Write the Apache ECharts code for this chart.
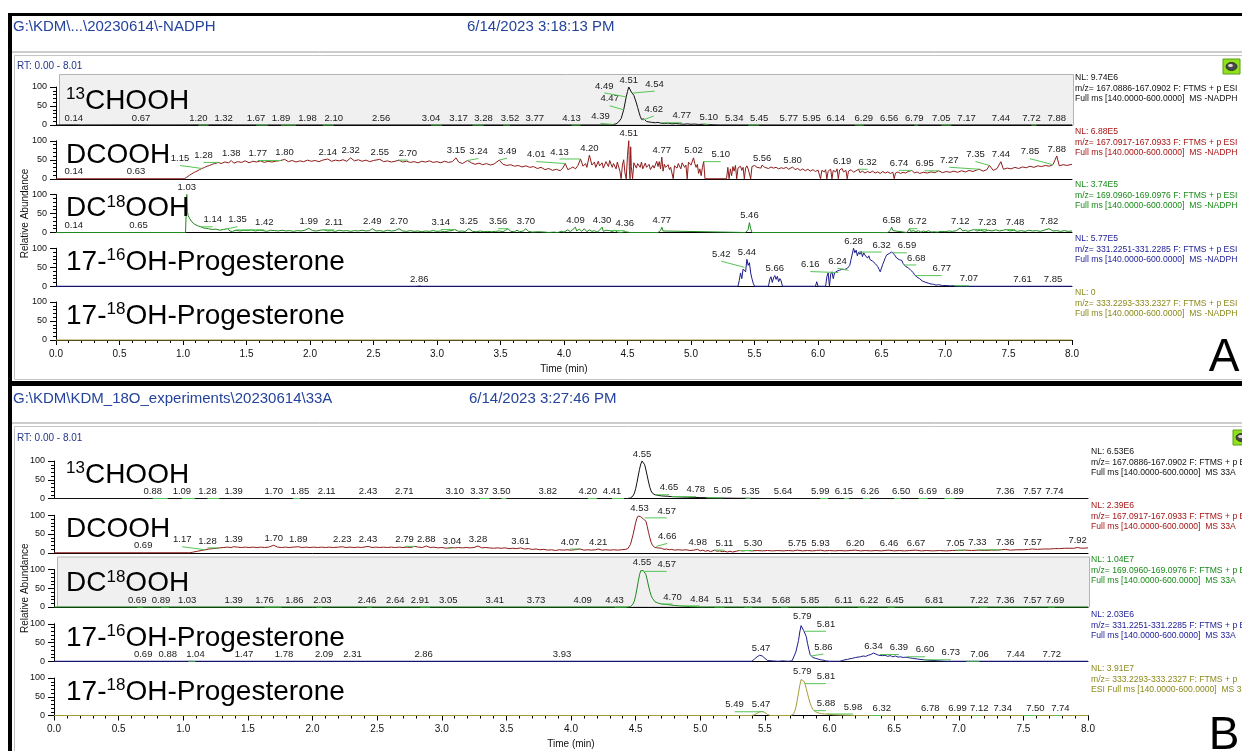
<!DOCTYPE html>
<html>
<head>
<meta charset="utf-8">
<script src="https://cdn.jsdelivr.net/npm/echarts@6/dist/echarts.min.js"></script>
<style>
  html, body { margin: 0; padding: 0; background: #fff; }
  #chart { width: 1242px; height: 751px; }
</style>
</head>
<body>
<div id="chart"></div>
<script>
// ---------- run headers ----------
const headerA = ['G:\\KDM\\...\\20230614\\-NADPH', '6/14/2023 3:18:13 PM'];
const headerB = ['G:\\KDM\\KDM_18O_experiments\\20230614\\33A', '6/14/2023 3:27:46 PM'];
const rtRange = 'RT: 0.00 - 8.01';
const panelLetters = ['A', 'B'];

// ---------- trace descriptions (right-hand text) ----------
const compoundNames = [
  [['13', 1], ['CHOOH', 0]],
  [['DCOOH', 0]],
  [['DC', 0], ['18', 1], ['OOH', 0]],
  [['17-', 0], ['16', 1], ['OH-Progesterone', 0]],
  [['17-', 0], ['18', 1], ['OH-Progesterone', 0]]
];
const nlA = ['9.74E6', '6.88E5', '3.74E5', '5.77E5', '0'];
const nlB = ['6.53E6', '2.39E6', '1.04E7', '2.03E6', '3.91E7'];
const mzWindows = ['167.0886-167.0902', '167.0917-167.0933', '169.0960-169.0976', '331.2251-331.2285', '333.2293-333.2327'];
const scanFilter = 'F: FTMS + p ESI';
const fullMs = 'Full ms [140.0000-600.0000]';
const sampleTags = ['MS -NADPH', 'MS 33A'];

// ---------- run A traces: [time (min), relative abundance %] ----------
const a1Trace = [[0,0],[0.14,0.4],[0.2,0],[0.67,0.4],[0.75,0],[1.2,0.3],[1.32,0.3],[1.4,0],[4.3,0],[4.36,0.6],[4.39,1.5],[4.41,3],[4.43,8],[4.45,17],[4.47,40],[4.49,74],[4.50,88],[4.51,100],[4.52,95],[4.53,87],[4.54,84],[4.55,78],[4.56,68],[4.57,58],[4.58,46],[4.59,34],[4.60,23],[4.61,15],[4.62,13],[4.63,16],[4.64,12],[4.65,9],[4.66,11],[4.67,8],[4.68,10],[4.69,7],[4.70,8],[4.72,6],[4.74,7],[4.76,5],[4.77,6],[4.79,4],[4.82,5],[4.85,3],[4.88,4],[4.91,3],[4.94,2],[4.97,3],[5.00,2],[5.03,2.5],[5.06,1.5],[5.10,2],[5.13,1],[5.18,0.5],[5.22,0],[8,0]];
const a1Peaks = [[0.14,0],[0.67,0],[1.20,0],[1.32,0],[1.67,0],[1.89,0],[1.98,0],[2.10,0],[2.56,0],[3.04,0],[3.17,0],[3.28,0],[3.52,0],[3.77,0],[4.13,0],[4.39,1.5],[4.47,40],[4.49,74],[4.51,100],[4.54,84],[4.62,13],[4.77,6],[5.10,2],[5.34,0],[5.45,0],[5.77,0],[5.95,0],[6.14,0],[6.29,0],[6.56,0],[6.79,0],[7.05,0],[7.17,0],[7.44,0],[7.72,0],[7.88,0]];

const a2Trace = [[0,0],[1.01,0],[1.03,4],[1.05,9],[1.07,13],[1.09,17],[1.11,20],[1.13,24],[1.15,27],[1.17,30],[1.19,33],[1.21,35],[1.23,38],[1.25,40],[1.28,43],[1.30,40],[1.33,44],[1.36,42],[1.38,48],[1.40,41],[1.43,45],[1.46,43],[1.49,47],[1.52,42],[1.55,46],[1.58,44],[1.61,47],[1.64,43],[1.67,46],[1.70,44],[1.73,46],[1.77,48],[1.80,51],[1.83,45],[1.86,48],[1.89,44],[1.92,47],[1.95,45],[1.98,49],[2.01,46],[2.04,48],[2.07,45],[2.10,49],[2.14,52],[2.17,46],[2.20,49],[2.23,47],[2.26,50],[2.29,46],[2.32,55],[2.35,47],[2.38,50],[2.41,46],[2.44,49],[2.47,45],[2.50,48],[2.55,51],[2.58,45],[2.61,47],[2.64,44],[2.67,46],[2.70,49],[2.73,44],[2.76,46],[2.79,43],[2.82,45],[2.85,42],[2.88,46],[2.91,44],[2.94,47],[2.97,43],[3.00,45],[3.03,42],[3.06,46],[3.09,43],[3.12,45],[3.15,55],[3.17,44],[3.20,40],[3.24,48],[3.27,42],[3.30,38],[3.33,41],[3.36,37],[3.39,40],[3.42,36],[3.45,39],[3.49,49],[3.52,38],[3.55,35],[3.58,37],[3.61,33],[3.64,35],[3.67,31],[3.70,34],[3.73,30],[3.76,32],[3.79,27],[3.82,30],[3.85,24],[3.88,27],[3.91,22],[3.94,25],[3.97,21],[3.99,28],[4.01,40],[4.03,24],[4.05,27],[4.07,31],[4.09,26],[4.11,35],[4.13,52],[4.15,33],[4.17,40],[4.18,30],[4.20,62],[4.22,36],[4.24,44],[4.25,30],[4.27,46],[4.28,34],[4.30,42],[4.31,28],[4.33,45],[4.35,32],[4.36,48],[4.38,30],[4.39,40],[4.41,26],[4.42,44],[4.44,20],[4.45,0],[4.46,36],[4.47,50],[4.48,15],[4.49,0],[4.50,62],[4.51,100],[4.515,22],[4.52,0],[4.525,84],[4.53,32],[4.54,0],[4.55,42],[4.56,46],[4.57,28],[4.58,40],[4.60,30],[4.61,44],[4.62,26],[4.64,41],[4.65,30],[4.67,38],[4.68,24],[4.70,35],[4.71,28],[4.73,46],[4.74,32],[4.75,45],[4.76,26],[4.77,57],[4.78,20],[4.79,38],[4.80,30],[4.82,37],[4.83,24],[4.84,30],[4.86,0],[4.87,34],[4.89,28],[4.90,40],[4.92,26],[4.93,42],[4.95,30],[4.96,36],[4.97,0],[4.98,44],[5.00,36],[5.02,55],[5.03,40],[5.04,30],[5.05,38],[5.06,14],[5.07,26],[5.08,8],[5.09,30],[5.10,45],[5.11,0],[5.28,0],[5.29,30],[5.30,0],[5.31,26],[5.32,8],[5.33,32],[5.34,20],[5.35,35],[5.36,0],[5.37,28],[5.38,24],[5.39,33],[5.40,22],[5.41,30],[5.42,0],[5.43,28],[5.44,34],[5.45,26],[5.46,30],[5.47,0],[5.48,32],[5.49,28],[5.50,35],[5.52,30],[5.53,33],[5.55,28],[5.56,36],[5.58,30],[5.59,33],[5.61,27],[5.63,31],[5.65,28],[5.67,30],[5.69,26],[5.71,29],[5.73,27],[5.75,30],[5.77,25],[5.80,31],[5.82,24],[5.84,27],[5.86,22],[5.88,26],[5.90,21],[5.92,25],[5.94,20],[5.96,24],[5.98,19],[6.00,23],[6.02,0],[6.03,22],[6.05,18],[6.06,24],[6.07,0],[6.08,20],[6.10,25],[6.11,0],[6.12,22],[6.14,18],[6.15,26],[6.16,0],[6.17,23],[6.19,27],[6.20,18],[6.22,22],[6.23,0],[6.24,20],[6.26,24],[6.28,17],[6.30,21],[6.32,25],[6.33,16],[6.35,20],[6.37,15],[6.39,19],[6.41,16],[6.43,20],[6.45,15],[6.47,18],[6.49,14],[6.51,19],[6.53,15],[6.55,18],[6.57,14],[6.59,17],[6.60,0],[6.61,15],[6.63,18],[6.65,14],[6.67,17],[6.69,15],[6.71,19],[6.74,22],[6.76,15],[6.78,18],[6.80,14],[6.83,17],[6.86,15],[6.89,18],[6.92,16],[6.95,21],[6.98,16],[7.01,19],[7.04,17],[7.07,20],[7.10,17],[7.13,21],[7.16,18],[7.19,22],[7.22,19],[7.25,23],[7.27,25],[7.30,20],[7.33,24],[7.35,35],[7.38,22],[7.41,27],[7.44,45],[7.46,25],[7.49,28],[7.52,26],[7.55,30],[7.58,27],[7.61,31],[7.64,29],[7.67,33],[7.70,30],[7.73,34],[7.76,32],[7.79,35],[7.82,33],[7.85,37],[7.88,60],[7.90,34],[7.93,37],[7.96,35],[8,38]];
const a2Peaks = [[0.14,0],[0.63,0],[1.15,27],[1.28,43],[1.38,48],[1.77,48],[1.80,51],[2.14,52],[2.32,55],[2.55,51],[2.70,49],[3.15,55],[3.24,48],[3.49,49],[4.01,40],[4.13,52],[4.20,62],[4.51,100],[4.77,57],[5.02,55],[5.10,45],[5.56,36],[5.80,31],[6.19,27],[6.32,25],[6.74,22],[6.95,21],[7.27,25],[7.35,35],[7.44,45],[7.85,37],[7.88,60]];

const a3Trace = [[0,0],[1.02,0],[1.03,100],[1.035,55],[1.04,45],[1.05,38],[1.06,33],[1.07,28],[1.08,25],[1.09,22],[1.10,20],[1.12,17],[1.14,15],[1.16,12],[1.18,11],[1.20,10],[1.23,8],[1.26,9],[1.29,6],[1.32,8],[1.35,10],[1.37,4],[1.39,2],[1.41,6],[1.42,7],[1.45,4],[1.48,6],[1.51,5],[1.54,7],[1.57,4],[1.60,6],[1.63,5],[1.66,3],[1.69,6],[1.72,5],[1.75,4],[1.78,6],[1.81,4],[1.84,5],[1.87,3],[1.90,5],[1.93,4],[1.96,6],[1.99,11],[2.02,5],[2.05,4],[2.08,6],[2.11,7],[2.14,4],[2.17,5],[2.20,3],[2.23,6],[2.26,4],[2.29,5],[2.32,3],[2.35,5],[2.38,4],[2.41,6],[2.44,4],[2.47,5],[2.49,10],[2.52,4],[2.55,5],[2.58,3],[2.61,6],[2.64,4],[2.67,5],[2.70,10],[2.73,4],[2.76,3],[2.79,5],[2.82,3],[2.85,4],[2.88,2],[2.91,4],[2.94,3],[2.97,5],[3.00,3],[3.03,4],[3.06,2],[3.09,4],[3.12,5],[3.14,8],[3.17,3],[3.20,4],[3.22,2],[3.25,10],[3.28,3],[3.31,2],[3.34,4],[3.37,2],[3.40,3],[3.43,2],[3.46,3],[3.49,4],[3.52,2],[3.54,6],[3.56,10],[3.58,3],[3.61,2],[3.63,6],[3.65,2],[3.68,4],[3.70,10],[3.72,3],[3.75,1],[3.80,2],[3.85,1],[3.88,0],[3.92,1],[3.95,0],[3.98,3],[4.00,1],[4.03,7],[4.05,2],[4.07,8],[4.09,14],[4.10,4],[4.12,9],[4.14,3],[4.16,10],[4.18,2],[4.20,7],[4.22,3],[4.24,5],[4.26,1],[4.28,6],[4.30,14],[4.31,3],[4.33,6],[4.34,1],[4.36,5],[4.38,2],[4.40,6],[4.42,1],[4.45,0],[4.48,2],[4.52,0],[4.74,0],[4.76,5],[4.77,14],[4.78,4],[4.79,0],[5.43,0],[5.45,8],[5.46,26],[5.47,10],[5.48,0],[6.55,0],[6.57,6],[6.58,14],[6.59,5],[6.60,0],[6.70,0],[6.71,4],[6.72,10],[6.73,3],[6.75,5],[6.77,2],[6.79,5],[6.81,1],[6.83,4],[6.85,2],[6.87,5],[6.89,1],[6.91,2],[6.94,1],[6.97,3],[7.00,2],[7.03,4],[7.06,3],[7.09,5],[7.12,12],[7.14,4],[7.16,6],[7.18,3],[7.21,6],[7.23,8],[7.25,4],[7.28,6],[7.31,3],[7.34,6],[7.37,4],[7.40,7],[7.43,4],[7.46,6],[7.48,8],[7.51,4],[7.54,6],[7.57,3],[7.60,5],[7.63,3],[7.66,6],[7.69,4],[7.72,5],[7.75,3],[7.78,6],[7.82,10],[7.85,4],[7.88,5],[7.91,3],[7.94,5],[7.97,3],[8,4]];
const a3Peaks = [[0.14,0],[0.65,0],[1.03,100],[1.14,15],[1.35,10],[1.42,7],[1.99,11],[2.11,7],[2.49,10],[2.70,10],[3.14,8],[3.25,10],[3.56,10],[3.70,10],[4.09,14],[4.30,14],[4.36,5],[4.77,14],[5.46,26],[6.58,14],[6.72,10],[7.12,12],[7.23,8],[7.48,8],[7.82,10]];

const a4Trace = [[0,0],[2.84,0],[2.86,0.8],[2.88,0],[5.37,0],[5.38,15],[5.39,35],[5.40,20],[5.41,45],[5.42,50],[5.43,38],[5.44,71],[5.45,55],[5.46,62],[5.47,35],[5.48,20],[5.49,8],[5.50,0],[5.61,0],[5.62,18],[5.63,25],[5.64,10],[5.65,22],[5.66,28],[5.67,18],[5.68,26],[5.69,12],[5.70,20],[5.71,14],[5.72,0],[5.98,0],[5.99,12],[6.00,0],[6.06,0],[6.07,25],[6.08,35],[6.09,0],[6.10,32],[6.11,38],[6.12,20],[6.13,35],[6.14,30],[6.15,40],[6.16,36],[6.17,42],[6.18,38],[6.19,45],[6.20,40],[6.21,44],[6.22,39],[6.23,47],[6.24,42],[6.25,55],[6.26,70],[6.27,85],[6.28,100],[6.29,88],[6.30,95],[6.31,80],[6.32,90],[6.33,84],[6.34,92],[6.35,78],[6.36,88],[6.37,82],[6.38,86],[6.39,74],[6.40,80],[6.41,70],[6.42,75],[6.43,66],[6.44,70],[6.45,60],[6.46,62],[6.47,52],[6.48,45],[6.49,38],[6.50,48],[6.51,58],[6.52,66],[6.53,75],[6.54,82],[6.55,78],[6.56,86],[6.57,84],[6.58,90],[6.59,88],[6.60,84],[6.61,80],[6.62,74],[6.63,76],[6.64,70],[6.65,66],[6.66,68],[6.67,60],[6.68,56],[6.69,52],[6.70,48],[6.71,49],[6.72,44],[6.73,42],[6.74,40],[6.75,36],[6.76,30],[6.77,28],[6.78,24],[6.79,22],[6.80,20],[6.81,17],[6.82,14],[6.83,12],[6.85,10],[6.87,8],[6.89,6],[6.91,5],[6.93,3],[6.95,4],[6.98,2],[7.01,2],[7.04,1],[7.07,1.5],[7.10,0],[8,0]];
const a4Peaks = [[2.86,0],[5.42,50],[5.44,71],[5.66,28],[6.16,36],[6.24,42],[6.28,100],[6.32,90],[6.59,88],[6.68,56],[6.77,28],[7.07,1.5],[7.61,0],[7.85,0]];

const a5Trace = [[0,0],[8,0]];
const a5Peaks = [];

// ---------- run B traces ----------
const b1Trace = [[0,0],[0.88,0],[0.89,0.5],[0.9,0],[4.44,0],[4.46,1.5],[4.47,3],[4.48,7],[4.49,14],[4.50,26],[4.51,42],[4.52,60],[4.53,78],[4.54,92],[4.55,100],[4.56,98],[4.57,90],[4.58,76],[4.59,60],[4.60,44],[4.61,30],[4.62,20],[4.63,14],[4.64,11],[4.65,10],[4.66,9],[4.68,8],[4.70,7],[4.72,6.5],[4.75,6],[4.78,5],[4.82,4.5],[4.86,4],[4.90,3.5],[4.95,3],[5.00,2.5],[5.05,2],[5.10,1.5],[5.15,1.2],[5.20,1],[5.30,0.6],[5.35,0.6],[5.40,0.3],[5.50,0],[8,0]];
const b1Peaks = [[0.88,0],[1.09,0],[1.28,0],[1.39,0],[1.70,0],[1.85,0],[2.11,0],[2.43,0],[2.71,0],[3.10,0],[3.37,0],[3.50,0],[3.82,0],[4.20,0],[4.41,0],[4.55,100],[4.65,10],[4.78,5],[5.05,2],[5.35,0.6],[5.64,0],[5.99,0],[6.15,0],[6.26,0],[6.50,0],[6.69,0],[6.89,0],[7.36,0],[7.57,0],[7.74,0]];

const b2Trace = [[0,0],[0.69,0],[0.70,1],[0.71,0],[1.05,0],[1.08,2],[1.11,4],[1.14,6],[1.17,8],[1.20,10],[1.23,11],[1.26,12],[1.28,13],[1.31,14],[1.34,15],[1.37,14],[1.39,16],[1.42,15],[1.45,14],[1.48,15],[1.51,14],[1.54,15],[1.57,14],[1.60,15],[1.63,14],[1.66,15],[1.70,20],[1.73,15],[1.76,14],[1.79,15],[1.82,14],[1.85,15],[1.89,16],[1.92,14],[1.95,15],[1.98,14],[2.01,15],[2.04,14],[2.07,15],[2.10,14],[2.13,15],[2.16,14],[2.20,15],[2.23,16],[2.26,14],[2.29,15],[2.32,14],[2.35,15],[2.38,14],[2.43,17],[2.46,14],[2.49,15],[2.52,14],[2.55,15],[2.58,14],[2.61,15],[2.64,14],[2.67,15],[2.70,14],[2.73,15],[2.76,14],[2.79,17],[2.82,15],[2.85,14],[2.88,18],[2.91,14],[2.94,15],[2.97,13],[3.00,14],[3.04,12],[3.07,14],[3.10,13],[3.13,14],[3.16,13],[3.19,14],[3.22,13],[3.25,14],[3.28,18],[3.31,13],[3.34,14],[3.37,13],[3.40,12],[3.43,13],[3.46,12],[3.49,13],[3.52,11],[3.55,12],[3.58,11],[3.61,13],[3.64,10],[3.67,11],[3.70,9],[3.73,10],[3.76,8],[3.79,9],[3.82,7],[3.85,8],[3.88,6],[3.91,8],[3.94,7],[3.97,8],[4.00,7],[4.03,8],[4.07,10],[4.10,7],[4.13,8],[4.16,7],[4.19,8],[4.21,10],[4.24,7],[4.27,8],[4.30,7],[4.33,8],[4.36,7],[4.39,8],[4.42,9],[4.44,11],[4.46,22],[4.48,48],[4.50,80],[4.51,92],[4.52,98],[4.53,100],[4.54,96],[4.55,92],[4.56,90],[4.57,93],[4.58,84],[4.59,70],[4.60,54],[4.61,40],[4.62,28],[4.63,20],[4.64,15],[4.65,14],[4.66,17],[4.67,13],[4.68,11],[4.70,12],[4.72,9],[4.74,10],[4.76,8],[4.78,9],[4.80,7],[4.83,8],[4.86,7],[4.89,8],[4.92,6],[4.95,7],[4.98,9],[5.00,5],[5.02,7],[5.04,4],[5.06,6],[5.08,3],[5.11,7],[5.13,4],[5.15,5],[5.17,3],[5.19,4],[5.21,2],[5.23,4],[5.25,2],[5.28,4],[5.30,6],[5.33,5],[5.36,6],[5.40,5],[5.44,6],[5.48,5],[5.52,6],[5.56,5],[5.60,6],[5.64,5],[5.68,6],[5.72,5],[5.75,7],[5.79,5],[5.83,6],[5.87,5],[5.90,6],[5.93,7],[5.96,5],[6.00,6],[6.04,5],[6.08,6],[6.12,5],[6.16,6],[6.20,7],[6.24,5],[6.28,6],[6.32,5],[6.36,6],[6.40,5],[6.43,6],[6.46,7],[6.50,5],[6.54,6],[6.58,5],[6.62,6],[6.67,7],[6.71,5],[6.75,6],[6.80,5],[6.85,6],[6.90,5],[6.95,6],[7.00,6],[7.05,7],[7.10,6],[7.15,7],[7.20,6],[7.25,7],[7.30,7],[7.33,8],[7.36,9],[7.40,7],[7.45,8],[7.50,8],[7.54,9],[7.57,10],[7.61,9],[7.65,10],[7.70,10],[7.74,11],[7.78,11],[7.82,12],[7.86,12],[7.89,12],[7.92,14],[7.95,12],[8,13]];
const b2Peaks = [[0.69,1],[1.17,8],[1.28,13],[1.39,16],[1.70,20],[1.89,16],[2.23,16],[2.43,17],[2.79,17],[2.88,18],[3.04,12],[3.28,18],[3.61,13],[4.07,10],[4.21,10],[4.53,100],[4.57,93],[4.66,17],[4.98,9],[5.11,7],[5.30,6],[5.75,7],[5.93,7],[6.20,7],[6.46,7],[6.67,7],[7.05,7],[7.33,8],[7.36,9],[7.57,10],[7.92,14]];

const b3Trace = [[0,0],[4.44,0],[4.46,1],[4.47,3],[4.48,8],[4.49,16],[4.50,30],[4.51,48],[4.52,68],[4.53,86],[4.54,97],[4.55,100],[4.56,97],[4.57,95],[4.58,86],[4.59,72],[4.60,56],[4.61,42],[4.62,31],[4.63,23],[4.64,18],[4.65,14],[4.67,11],[4.70,8],[4.73,7],[4.76,6],[4.80,4],[4.84,3],[4.88,2],[4.92,1],[4.96,0.5],[5.0,0],[8,0]];
const b3Peaks = [[0.69,0],[0.89,0],[1.03,0],[1.39,0],[1.76,0],[1.86,0],[2.03,0],[2.46,0],[2.64,0],[2.91,0],[3.05,0],[3.41,0],[3.73,0],[4.09,0],[4.43,0],[4.55,100],[4.57,95],[4.70,8],[4.84,3],[5.11,0],[5.34,0],[5.68,0],[5.85,0],[6.11,0],[6.22,0],[6.45,0],[6.81,0],[7.22,0],[7.36,0],[7.57,0],[7.69,0]];

const b4Trace = [[0,0],[5.40,0],[5.42,6],[5.44,12],[5.46,16],[5.47,17],[5.48,14],[5.50,8],[5.52,2],[5.53,0],[5.56,1],[5.60,0],[5.64,1],[5.68,0],[5.71,1],[5.72,5],[5.74,25],[5.76,55],[5.77,78],[5.78,95],[5.79,100],[5.80,82],[5.81,80],[5.82,66],[5.83,48],[5.84,32],[5.85,18],[5.86,14],[5.87,10],[5.88,12],[5.89,8],[5.90,11],[5.91,6],[5.92,9],[5.93,4],[5.95,3],[5.97,1],[6.00,0],[6.08,0],[6.10,2],[6.12,4],[6.14,5],[6.16,7],[6.18,8],[6.20,10],[6.22,11],[6.24,12],[6.26,14],[6.28,13],[6.30,16],[6.32,18],[6.34,22],[6.36,19],[6.38,16],[6.39,18],[6.41,15],[6.43,16],[6.45,13],[6.47,15],[6.49,12],[6.51,14],[6.53,11],[6.55,12],[6.57,10],[6.59,11],[6.60,12],[6.62,9],[6.64,8],[6.66,7],[6.68,6],[6.70,5],[6.73,4],[6.76,3],[6.80,2],[6.85,1],[6.90,0],[8,0]];
const b4Peaks = [[0.69,0],[0.88,0],[1.04,0],[1.47,0],[1.78,0],[2.09,0],[2.31,0],[2.86,0],[3.93,0],[5.47,17],[5.79,100],[5.81,80],[5.86,14],[6.34,22],[6.39,18],[6.60,12],[6.73,4],[7.06,0],[7.44,0],[7.72,0]];

const b5Trace = [[0,0],[5.40,0],[5.42,2],[5.44,6],[5.46,10],[5.47,12],[5.48,11],[5.49,10],[5.50,8],[5.52,3],[5.54,0],[5.70,0],[5.72,3],[5.73,10],[5.74,22],[5.75,40],[5.76,60],[5.77,80],[5.78,96],[5.79,100],[5.80,92],[5.81,85],[5.82,72],[5.83,58],[5.84,45],[5.85,33],[5.86,24],[5.87,17],[5.88,13],[5.89,10],[5.90,8],[5.92,6],[5.94,5],[5.96,4],[5.98,4],[6.00,3],[6.03,2],[6.06,1.5],[6.10,1],[6.15,0.5],[6.20,0],[8,0]];
const b5Peaks = [[5.49,10],[5.47,12],[5.79,100],[5.81,85],[5.88,13],[5.98,4],[6.32,0],[6.78,0],[6.99,0],[7.12,0],[7.34,0],[7.50,0],[7.74,0]];

// ---------- label displacement (px) for crowded peak labels; a leader joins label and apex ----------
const a1Shift = {'1.20':[-10,0],'1.67':[-12,0],'1.89':[-15,0],'2.10':[11,0],'3.04':[-11,0],'3.28':[11,0],'3.52':[7,0],'4.13':[-9,0],'4.39':[-13,-1],'4.47':[-14,-4],'4.49':[-22,-4],'4.54':[22,-2],'4.62':[11,-4],'4.77':[20,0],'5.10':[5,0],'5.45':[11,0],'6.29':[9,0],'6.79':[-4,0],'7.05':[-10,0],'7.72':[-5,0]};
const a2Shift = {'1.15':[-22,-3],'1.28':[-15,0],'1.77':[-23,0],'2.70':[9,0],'3.24':[11,-2],'3.49':[8,-2],'4.01':[-29,-2],'4.13':[-21,0],'5.10':[17,0],'6.32':[9,0],'6.74':[-13,0],'6.95':[-14,0],'7.27':[-30,-2],'7.35':[-14,-4],'7.85':[-23,-6]};
const a3Shift = {'1.14':[12,0],'1.35':[10,-2],'1.42':[28,0],'2.11':[10,0],'3.14':[-14,0],'3.56':[-10,0],'4.36':[15,0],'6.72':[8,0],'7.23':[13,0],'7.48':[9,0]};
const a4Shift = {'5.42':[-23,-6],'6.16':[-28,-1],'6.24':[-11,-2],'6.32':[23,0],'6.59':[14,0],'6.68':[12,0],'6.77':[26,0],'7.07':[15,0]};
const a5Shift = {};
const b1Shift = {'0.88':[-15,0],'1.09':[-13,0],'1.28':[-12,0],'1.85':[7,0],'3.37':[-10,0],'3.50':[-5,0],'4.20':[-9,0],'4.41':[-12,0],'4.65':[14,0],'4.78':[24,0],'5.05':[16,0],'5.35':[5,0],'5.99':[-8,0],'6.15':[-5,0],'6.26':[7,0],'6.50':[7,0],'6.69':[9,0],'6.89':[10,0]};
const b2Shift = {'1.17':[-23,-3],'1.28':[-12,0],'2.79':[-10,0],'3.04':[5,0],'4.07':[-10,0],'4.57':[22,0],'4.66':[11,-3],'5.11':[10,0],'5.30':[14,0],'7.05':[-10,0],'7.33':[-24,0]};
const b3Shift = {'0.69':[-6,0],'0.89':[-8,0],'1.76':[-17,0],'2.03':[6,0],'2.46':[-5,0],'2.91':[-10,0],'4.43':[-12,0],'4.57':[22,0],'4.70':[11,0],'4.84':[20,0],'5.11':[10,0],'5.34':[8,0],'5.68':[-7,0],'6.22':[11,0],'6.45':[7,0],'7.22':[-8,0],'7.69':[7,0]};
const b4Shift = {'1.04':[7,0],'5.81':[21,0],'5.86':[12,-2],'6.39':[19,0],'6.60':[18,0],'6.73':[27,0],'7.06':[13,0]};
const b5Shift = {'5.49':[-29,0],'5.81':[21,0],'5.88':[12,0],'5.98':[26,0],'6.32':[11,0],'7.12':[5,0],'7.50':[12,0],'7.74':[6,0]};

// ---------- drawing ----------
const FONT = '"Liberation Sans", Arial, Helvetica, sans-serif';
const traceColors = ['#111111', '#8e1c1c', '#1f8a1f', '#1c1c8c', '#a39c3c'];
const textColors  = ['#111111', '#a81515', '#1a8a1a', '#1c1c96', '#8c8a1c'];
const LEADER = '#55c455';

const runs = [
  { header: headerA, nl: nlA, tag: sampleTags[0], letter: panelLetters[0],
    traces: [a1Trace, a2Trace, a3Trace, a4Trace, a5Trace],
    peaks: [a1Peaks, a2Peaks, a3Peaks, a4Peaks, a5Peaks],
    shifts: [a1Shift, a2Shift, a3Shift, a4Shift, a5Shift],
    x0: 56, x8: 1072, top: 87, step: 53.75, h: 38, boxPane: 0,
    headY: 27, ruleY: 52, rtY: 66.5, frameTop: 55, frameBottom: 379, letterY: 358, iconX: 1223, iconY: 59, dateX: 467 },
  { header: headerB, nl: nlB, tag: sampleTags[1], letter: panelLetters[1],
    traces: [b1Trace, b2Trace, b3Trace, b4Trace, b5Trace],
    peaks: [b1Peaks, b2Peaks, b3Peaks, b4Peaks, b5Peaks],
    shifts: [b1Shift, b2Shift, b3Shift, b4Shift, b5Shift],
    x0: 54, x8: 1088, top: 461, step: 54.25, h: 37.5, boxPane: 2,
    headY: 399, ruleY: 423, rtY: 438, frameTop: 426, frameBottom: 760, letterY: 736, iconX: 1233, iconY: 430, dateX: 469 }
];

const measureCtx = document.createElement('canvas').getContext('2d');
function textWidth(str, size) {
  measureCtx.font = size + 'px ' + FONT;
  return measureCtx.measureText(str).width;
}
function txt(x, y, text, size, color, extra) {
  return Object.assign({
    type: 'text', x: x, y: y, silent: true, z: 20,
    style: { text: text, fill: color, font: size + 'px ' + FONT, align: 'left', verticalAlign: 'middle' }
  }, extra || {});
}

const grids = [], xAxes = [], yAxes = [], series = [], graphics = [];

// outer frame of the two result windows
graphics.push({ type: 'rect', silent: true, z: 30, shape: { x: 8, y: 13, width: 1240, height: 3 }, style: { fill: '#000' } });
graphics.push({ type: 'rect', silent: true, z: 30, shape: { x: 8, y: 13, width: 4, height: 740 }, style: { fill: '#000' } });
graphics.push({ type: 'rect', silent: true, z: 30, shape: { x: 8, y: 381, width: 1240, height: 5 }, style: { fill: '#000' } });

runs.forEach(function (run, ri) {
  // header strip
  graphics.push(txt(13, run.headY, run.header[0], 15, '#24439c'));
  graphics.push(txt(run.dateX, run.headY, run.header[1], 15, '#24439c'));
  graphics.push({ type: 'line', silent: true, z: 5, shape: { x1: 12, y1: run.ruleY, x2: 1242, y2: run.ruleY }, style: { stroke: '#9a9a9a', lineWidth: 1 } });
  graphics.push({ type: 'rect', silent: true, z: 5, shape: { x: 14.5, y: run.frameTop + 0.5, width: 1240, height: run.frameBottom - run.frameTop }, style: { fill: 'none', stroke: '#c4c4c4', lineWidth: 1 } });
  graphics.push(txt(17, run.rtY, rtRange, 10, '#24368a'));

  // small status icon
  graphics.push({ type: 'rect', silent: true, z: 21, shape: { x: run.iconX, y: run.iconY, width: 17, height: 15 }, style: { fill: '#8ee21c', stroke: '#5f9c12', lineWidth: 1 } });
  graphics.push({ type: 'ellipse', silent: true, z: 22, shape: { cx: run.iconX + 8.5, cy: run.iconY + 7.5, rx: 5.5, ry: 4 }, style: { fill: '#4a4a4a', stroke: '#222', lineWidth: 0.8 } });
  graphics.push({ type: 'ellipse', silent: true, z: 23, shape: { cx: run.iconX + 7.5, cy: run.iconY + 6.5, rx: 2.5, ry: 1.5 }, style: { fill: '#d8d8d8' } });

  // axis title and panel letter
  const firstTop = run.top, lastBottom = run.top + 4 * run.step + run.h;
  graphics.push(txt(25, (firstTop + lastBottom) / 2, 'Relative Abundance', 10, '#111',
    { rotation: Math.PI / 2, style: { text: 'Relative Abundance', fill: '#111', font: '10px ' + FONT, align: 'center', verticalAlign: 'middle' } }));
  graphics.push({ type: 'text', x: 1224, y: run.letterY, silent: true, z: 20,
    style: { text: run.letter, fill: '#000', font: '46px ' + FONT, align: 'center', verticalAlign: 'middle' } });

  for (let i = 0; i < 5; i++) {
    const gi = ri * 5 + i;
    const top = run.top + i * run.step;
    const bottomPane = i === 4;

    grids.push({ left: run.x0, top: top, width: run.x8 - run.x0, height: run.h, containLabel: false, outerBoundsMode: 'none', show: false });

    xAxes.push({
      gridIndex: gi, type: 'value', min: 0, max: 8, interval: 0.5,
      axisLine: { show: true, onZero: false, lineStyle: { color: '#000', width: 1 } },
      axisTick: { show: bottomPane, length: 5, lineStyle: { color: '#000' } },
      minorTick: { show: bottomPane, splitNumber: 5, length: 3, lineStyle: { color: '#000' } },
      axisLabel: { show: bottomPane, formatter: function (v) { return v.toFixed(1); }, fontSize: 10, margin: 9, color: '#111', fontFamily: FONT },
      splitLine: { show: false }, minorSplitLine: { show: false },
      name: bottomPane ? 'Time (min)' : '', nameLocation: 'middle', nameGap: 24,
      nameTextStyle: { fontSize: 10, color: '#111', fontFamily: FONT }
    });
    yAxes.push({
      gridIndex: gi, type: 'value', min: 0, max: 100, interval: 50,
      axisLine: { show: true, lineStyle: { color: '#000', width: 1 } },
      axisTick: { show: true, length: 6, lineStyle: { color: '#000' } },
      minorTick: { show: true, splitNumber: 5, length: 3, lineStyle: { color: '#000' } },
      axisLabel: { show: true, fontSize: 9, margin: 9, color: '#111', fontFamily: FONT },
      splitLine: { show: false }, minorSplitLine: { show: false }
    });

    // highlighted (active) pane
    if (i === run.boxPane) {
      graphics.push({ type: 'rect', silent: true, z: -10,
        shape: { x: run.x0 + 3.5, y: top - 12.5, width: run.x8 - run.x0 - 2, height: run.h + 12.5 },
        style: { fill: '#f0f0f0', stroke: '#b4b4b4', lineWidth: 1 } });
    }

    // chromatogram
    series.push({
      type: 'line', xAxisIndex: gi, yAxisIndex: gi, data: run.traces[i],
      showSymbol: false, symbol: 'none', clip: false, silent: true, animation: false, z: 3,
      lineStyle: { color: traceColors[i], width: 1 }
    });

    // retention-time labels at peak apexes
    const shifts = run.shifts[i];
    if (run.peaks[i].length) {
      series.push({
        type: 'custom', xAxisIndex: gi, yAxisIndex: gi, data: run.peaks[i],
        encode: { x: 0, y: 1 }, clip: false, silent: true, animation: false, z: 6,
        renderItem: function (params, api) {
          const rt = api.value(0), v = api.value(1);
          const p = api.coord([rt, v]);
          const key = rt.toFixed(2);
          const s = shifts[key] || [0, 0];
          const lx = p[0] + s[0], ly = p[1] - 2 + s[1];
          const children = [];
          if (s[0] || s[1]) {
            children.push({ type: 'line', shape: { x1: lx, y1: ly + 2, x2: p[0], y2: p[1] },
              style: { stroke: LEADER, lineWidth: 1 } });
          }
          children.push({ type: 'text', x: lx, y: ly,
            style: { text: key, fill: '#1a1a1a', font: '9.5px ' + FONT, align: 'center', verticalAlign: 'bottom' } });
          return { type: 'group', children: children };
        }
      });
    }

    // compound name with superscript isotope
    let cx = 66;
    compoundNames[i].forEach(function (part) {
      const sup = part[1] === 1;
      const size = sup ? 17 : 28;
      graphics.push(txt(cx, sup ? top + 7.5 : top + 14.2, part[0], size, '#000', { z: 25 }));
      cx += textWidth(part[0], size);
    });

    // trace description on the right
    const rx = run.x8 + 3;
    const col = textColors[i];
    graphics.push(txt(rx, top - 9.5, 'NL: ' + run.nl[i], 8.6, col));
    if (ri === 1 && i === 4) {
      // this filter line breaks one word earlier
      graphics.push(txt(rx, top + 1.5, 'm/z= ' + mzWindows[i] + ' F: FTMS + p', 8.6, col));
      graphics.push(txt(rx, top + 11.5, 'ESI ' + fullMs + '  ' + run.tag, 8.6, col));
    } else {
      graphics.push(txt(rx, top + 1.5, 'm/z= ' + mzWindows[i] + ' ' + scanFilter, 8.6, col));
      graphics.push(txt(rx, top + 11.5, fullMs + '  ' + run.tag, 8.6, col));
    }
  }
});

const chart = echarts.init(document.getElementById('chart'), null, { renderer: 'canvas' });
chart.setOption({
  backgroundColor: '#ffffff',
  animation: false,
  textStyle: { fontFamily: FONT },
  grid: grids,
  xAxis: xAxes,
  yAxis: yAxes,
  series: series,
  graphic: { elements: graphics }
});
</script>
</body>
</html>
